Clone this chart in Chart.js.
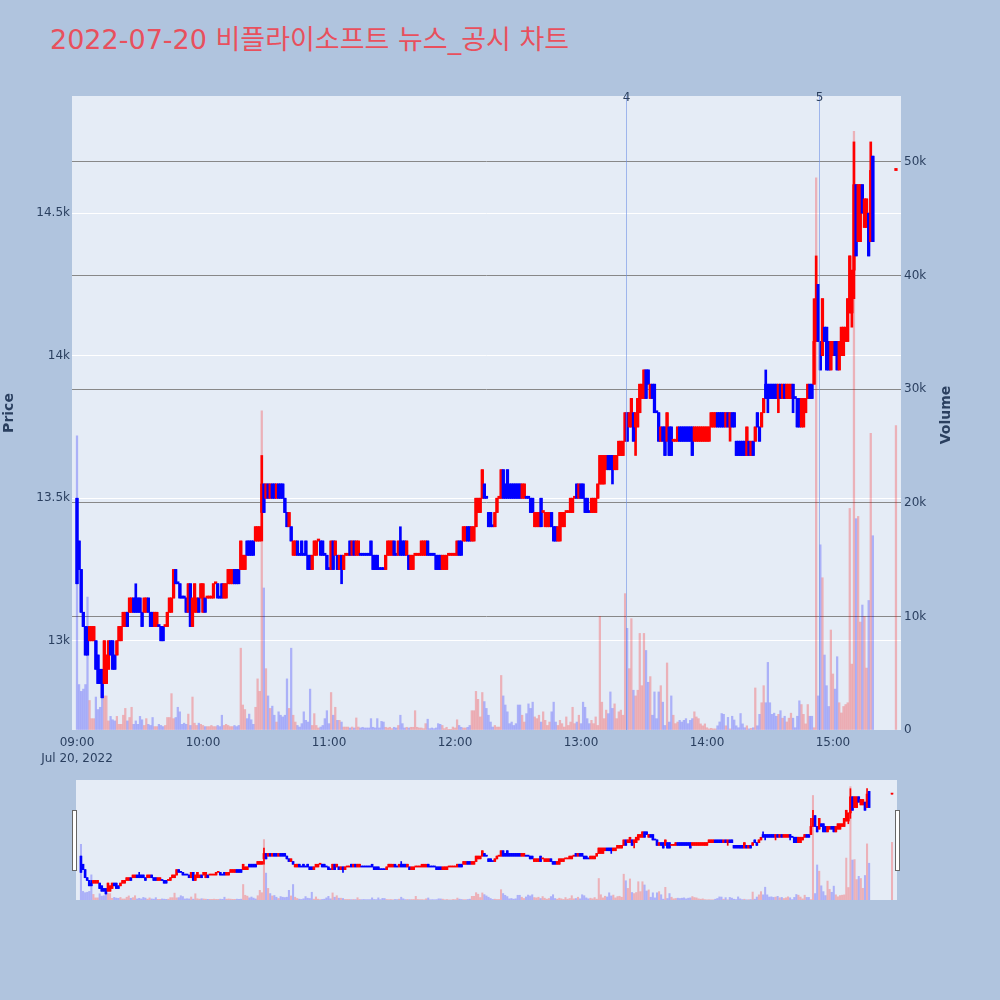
<!DOCTYPE html>
<html>
<head>
<meta charset="utf-8">
<script src="https://cdn.jsdelivr.net/npm/chart.js@4.4.0/dist/chart.umd.min.js"></script>
<style>
  body { margin: 0; width: 1000px; height: 1000px; overflow: hidden; position: relative; background: #b0c4de; }
  #title { position: absolute; left: 50px; top: 23px; font: 27px "DejaVu Sans", "Noto Sans CJK KR", sans-serif; color: #e8505d; line-height: 34px; white-space: nowrap; }
  #main { position: absolute; left: 0; top: 0; }
  #slider { position: absolute; left: 76px; top: 780px; background: #e5ecf6; }
  .grab { position: absolute; top: 810px; width: 3px; height: 59px; background: #fff; border: 1px solid #666; }
</style>
</head>
<body>
<div id="title">2022-07-20 비플라이소프트 뉴스_공시 차트</div>
<canvas id="main" width="1000" height="775"></canvas>
<canvas id="slider" width="821" height="120"></canvas>
<div class="grab" style="left:72px"></div>
<div class="grab" style="left:895px"></div>
<script>
// 1-minute candles, 2022-07-20
const dateLabel = "Jul 20, 2022";
const times = [
  "09:00","09:01","09:02","09:03","09:04","09:05","09:06","09:07","09:08","09:09",
  "09:10","09:11","09:12","09:13","09:14","09:15","09:16","09:17","09:18","09:19",
  "09:20","09:21","09:22","09:23","09:24","09:25","09:26","09:27","09:28","09:29",
  "09:30","09:31","09:32","09:33","09:34","09:35","09:36","09:37","09:38","09:39",
  "09:40","09:41","09:42","09:43","09:44","09:45","09:46","09:47","09:48","09:49",
  "09:50","09:51","09:52","09:53","09:54","09:55","09:56","09:57","09:58","09:59",
  "10:00","10:01","10:02","10:03","10:04","10:05","10:06","10:07","10:08","10:09",
  "10:10","10:11","10:12","10:13","10:14","10:15","10:16","10:17","10:18","10:19",
  "10:20","10:21","10:22","10:23","10:24","10:25","10:26","10:27","10:28","10:29",
  "10:30","10:31","10:32","10:33","10:34","10:35","10:36","10:37","10:38","10:39",
  "10:40","10:41","10:42","10:43","10:44","10:45","10:46","10:47","10:48","10:49",
  "10:50","10:51","10:52","10:53","10:54","10:55","10:56","10:57","10:58","10:59",
  "11:00","11:01","11:02","11:03","11:04","11:05","11:06","11:07","11:08","11:09",
  "11:10","11:11","11:12","11:13","11:14","11:15","11:16","11:17","11:18","11:19",
  "11:20","11:21","11:22","11:23","11:24","11:25","11:26","11:27","11:28","11:29",
  "11:30","11:31","11:32","11:33","11:34","11:35","11:36","11:37","11:38","11:39",
  "11:40","11:41","11:42","11:43","11:44","11:45","11:46","11:47","11:48","11:49",
  "11:50","11:51","11:52","11:53","11:54","11:55","11:56","11:57","11:58","11:59",
  "12:00","12:01","12:02","12:03","12:04","12:05","12:06","12:07","12:08","12:09",
  "12:10","12:11","12:12","12:13","12:14","12:15","12:16","12:17","12:18","12:19",
  "12:20","12:21","12:22","12:23","12:24","12:25","12:26","12:27","12:28","12:29",
  "12:30","12:31","12:32","12:33","12:34","12:35","12:36","12:37","12:38","12:39",
  "12:40","12:41","12:42","12:43","12:44","12:45","12:46","12:47","12:48","12:49",
  "12:50","12:51","12:52","12:53","12:54","12:55","12:56","12:57","12:58","12:59",
  "13:00","13:01","13:02","13:03","13:04","13:05","13:06","13:07","13:08","13:09",
  "13:10","13:11","13:12","13:13","13:14","13:15","13:16","13:17","13:18","13:19",
  "13:20","13:21","13:22","13:23","13:24","13:25","13:26","13:27","13:28","13:29",
  "13:30","13:31","13:32","13:33","13:34","13:35","13:36","13:37","13:38","13:39",
  "13:40","13:41","13:42","13:43","13:44","13:45","13:46","13:47","13:48","13:49",
  "13:50","13:51","13:52","13:53","13:54","13:55","13:56","13:57","13:58","13:59",
  "14:00","14:01","14:02","14:03","14:04","14:05","14:06","14:07","14:08","14:09",
  "14:10","14:11","14:12","14:13","14:14","14:15","14:16","14:17","14:18","14:19",
  "14:20","14:21","14:22","14:23","14:24","14:25","14:26","14:27","14:28","14:29",
  "14:30","14:31","14:32","14:33","14:34","14:35","14:36","14:37","14:38","14:39",
  "14:40","14:41","14:42","14:43","14:44","14:45","14:46","14:47","14:48","14:49",
  "14:50","14:51","14:52","14:53","14:54","14:55","14:56","14:57","14:58","14:59",
  "15:00","15:01","15:02","15:03","15:04","15:05","15:06","15:07","15:08","15:09",
  "15:10","15:11","15:12","15:13","15:14","15:15","15:16","15:17","15:18","15:19",
  "15:30"
];
const opens = [
  13500,13350,13250,13100,13050,13000,13000,13000,13000,13000,
  12950,12900,12900,12850,12850,12900,13000,13000,12950,12950,
  13000,13000,13050,13050,13100,13100,13100,13150,13150,13150,
  13150,13100,13100,13100,13150,13100,13100,13050,13050,13050,
  13050,13050,13050,13050,13100,13100,13150,13250,13200,13200,
  13150,13150,13150,13100,13200,13050,13100,13100,13150,13150,
  13100,13150,13150,13150,13150,13150,13200,13200,13150,13200,
  13150,13150,13200,13200,13200,13250,13250,13250,13250,13250,
  13250,13350,13350,13350,13350,13350,13350,13350,13450,13550,
  13500,13550,13500,13550,13550,13500,13550,13550,13550,13500,
  13450,13400,13400,13300,13300,13350,13300,13350,13300,13350,
  13300,13300,13250,13300,13300,13350,13350,13350,13300,13300,
  13250,13250,13350,13300,13300,13250,13300,13250,13300,13300,
  13350,13300,13350,13300,13300,13300,13300,13300,13300,13300,
  13350,13300,13300,13300,13250,13250,13250,13250,13300,13300,
  13300,13350,13300,13300,13350,13350,13350,13300,13300,13250,
  13250,13300,13300,13300,13300,13300,13300,13350,13300,13300,
  13300,13300,13300,13300,13250,13250,13250,13300,13300,13300,
  13300,13300,13350,13350,13350,13350,13400,13400,13350,13350,
  13400,13450,13450,13500,13550,13500,13450,13450,13400,13400,
  13450,13500,13500,13600,13550,13600,13550,13550,13550,13550,
  13550,13550,13500,13500,13500,13500,13500,13500,13400,13400,
  13400,13500,13450,13400,13400,13400,13450,13400,13400,13350,
  13350,13400,13400,13450,13450,13450,13450,13500,13550,13500,
  13550,13550,13500,13500,13450,13450,13450,13450,13500,13550,
  13550,13550,13600,13650,13650,13650,13600,13600,13650,13650,
  13650,13700,13800,13750,13750,13800,13750,13750,13800,13850,
  13850,13950,13950,13850,13900,13900,13800,13800,13700,13750,
  13750,13700,13750,13750,13700,13700,13700,13750,13750,13750,
  13750,13750,13750,13750,13700,13700,13700,13700,13700,13700,
  13700,13700,13750,13750,13750,13800,13800,13800,13800,13750,
  13800,13750,13800,13800,13700,13700,13700,13700,13700,13650,
  13700,13650,13700,13700,13800,13750,13750,13800,13900,13900,
  13900,13900,13900,13900,13850,13900,13850,13900,13850,13850,
  13850,13900,13850,13850,13850,13750,13750,13800,13850,13900,
  13900,13900,14050,14250,14050,14000,14100,14100,14050,13950,
  14000,14050,14050,13950,14000,14000,14050,14050,14150,14150,
  14300,14600,14400,14400,14600,14450,14450,14500,14400,14700,
  14650
];
const highs = [
  13500,13350,13250,13100,13050,13050,13050,13050,13050,13000,
  12950,12900,12900,13000,12950,13000,13000,13000,12950,13000,
  13050,13050,13100,13100,13100,13150,13150,13150,13200,13150,
  13150,13100,13150,13150,13150,13100,13100,13100,13100,13050,
  13050,13050,13050,13100,13150,13150,13250,13250,13200,13200,
  13150,13150,13150,13200,13200,13150,13200,13150,13150,13200,
  13200,13150,13150,13150,13150,13200,13200,13200,13150,13200,
  13200,13200,13250,13250,13250,13250,13250,13250,13350,13300,
  13300,13350,13350,13350,13350,13400,13400,13400,13650,13550,
  13550,13550,13550,13550,13550,13550,13550,13550,13550,13500,
  13450,13450,13400,13350,13350,13350,13300,13350,13300,13350,
  13300,13300,13300,13350,13350,13350,13350,13350,13300,13300,
  13250,13350,13350,13350,13300,13300,13300,13300,13300,13300,
  13350,13350,13350,13350,13350,13300,13300,13300,13300,13300,
  13350,13300,13300,13300,13250,13250,13250,13300,13350,13350,
  13350,13350,13300,13350,13400,13350,13350,13350,13300,13300,
  13300,13300,13300,13300,13350,13350,13350,13350,13300,13300,
  13300,13300,13300,13300,13300,13300,13300,13300,13300,13300,
  13300,13350,13350,13350,13400,13400,13400,13400,13400,13400,
  13500,13500,13500,13600,13550,13500,13450,13450,13400,13450,
  13500,13500,13600,13600,13550,13600,13550,13550,13550,13550,
  13550,13550,13550,13550,13500,13500,13500,13500,13450,13450,
  13450,13500,13450,13450,13450,13450,13450,13400,13400,13400,
  13450,13450,13450,13450,13450,13500,13500,13500,13550,13550,
  13550,13550,13500,13500,13450,13500,13500,13500,13550,13650,
  13650,13650,13650,13650,13650,13650,13650,13650,13700,13700,
  13700,13800,13800,13800,13850,13800,13800,13850,13900,13900,
  13950,13950,13950,13900,13900,13900,13800,13800,13750,13750,
  13750,13800,13750,13750,13700,13700,13750,13750,13750,13750,
  13750,13750,13750,13750,13750,13750,13750,13750,13750,13750,
  13750,13750,13800,13800,13800,13800,13800,13800,13800,13800,
  13800,13800,13800,13800,13700,13700,13700,13700,13700,13750,
  13700,13700,13700,13750,13800,13750,13800,13850,13950,13900,
  13900,13900,13900,13900,13900,13900,13900,13900,13900,13900,
  13900,13900,13850,13850,13850,13850,13850,13850,13900,13900,
  13900,14200,14350,14250,14050,14200,14100,14100,14050,14050,
  14050,14050,14050,14050,14100,14100,14100,14200,14350,14300,
  14750,14600,14600,14600,14600,14550,14550,14500,14750,14700,
  14650
];
const lows = [
  13200,13250,13100,13050,12950,12950,13000,13000,13000,12900,
  12850,12850,12800,12850,12850,12900,12950,12900,12900,12950,
  13000,13000,13050,13050,13050,13100,13100,13100,13100,13100,
  13100,13050,13100,13100,13100,13050,13050,13050,13050,13050,
  13000,13000,13050,13050,13100,13100,13150,13200,13200,13150,
  13150,13150,13100,13100,13050,13050,13100,13100,13100,13150,
  13100,13100,13150,13150,13150,13150,13200,13150,13150,13150,
  13150,13150,13200,13200,13200,13200,13200,13200,13250,13250,
  13250,13300,13300,13300,13300,13350,13350,13350,13350,13450,
  13500,13500,13500,13500,13500,13500,13500,13500,13500,13450,
  13400,13400,13350,13300,13300,13300,13300,13300,13300,13300,
  13250,13250,13250,13300,13300,13350,13300,13300,13300,13250,
  13250,13250,13250,13300,13250,13250,13200,13250,13300,13300,
  13300,13300,13300,13300,13300,13300,13300,13300,13300,13300,
  13300,13250,13250,13250,13250,13250,13250,13250,13300,13300,
  13300,13300,13300,13300,13300,13300,13300,13300,13250,13250,
  13250,13300,13300,13300,13300,13300,13300,13300,13300,13300,
  13300,13250,13250,13250,13250,13250,13250,13300,13300,13300,
  13300,13300,13300,13300,13350,13350,13350,13350,13350,13350,
  13400,13450,13450,13500,13500,13500,13400,13400,13400,13400,
  13450,13500,13500,13500,13500,13500,13500,13500,13500,13500,
  13500,13500,13500,13500,13500,13500,13450,13450,13400,13400,
  13400,13400,13450,13400,13400,13400,13400,13350,13350,13350,
  13350,13400,13400,13450,13450,13450,13450,13500,13500,13500,
  13500,13500,13450,13450,13450,13450,13450,13450,13500,13550,
  13550,13550,13600,13600,13600,13550,13600,13600,13650,13650,
  13650,13700,13700,13750,13750,13700,13650,13750,13800,13850,
  13850,13850,13900,13850,13850,13800,13800,13700,13700,13700,
  13650,13700,13650,13650,13700,13700,13700,13700,13700,13700,
  13700,13700,13700,13650,13700,13700,13700,13700,13700,13700,
  13700,13700,13750,13750,13750,13750,13750,13750,13750,13750,
  13750,13700,13750,13750,13650,13650,13650,13650,13650,13650,
  13650,13650,13650,13700,13750,13700,13750,13800,13850,13800,
  13850,13850,13850,13850,13800,13850,13850,13850,13850,13850,
  13850,13800,13850,13750,13750,13750,13750,13800,13850,13850,
  13850,13900,14050,14050,13950,14000,14050,13950,13950,13950,
  14000,14000,13950,13950,14000,14000,14050,14050,14150,14100,
  14200,14350,14400,14400,14500,14450,14450,14350,14400,14400,
  14650
];
const closes = [
  13200,13250,13100,13050,12950,12950,13050,13050,13050,12900,
  12850,12850,12800,13000,12950,13000,12950,12900,12900,13000,
  13050,13050,13100,13100,13050,13150,13150,13100,13100,13100,
  13100,13050,13150,13150,13100,13050,13050,13100,13100,13050,
  13000,13000,13050,13100,13150,13150,13250,13200,13200,13150,
  13150,13150,13100,13200,13050,13150,13200,13150,13100,13200,
  13200,13100,13150,13150,13150,13200,13200,13150,13150,13150,
  13200,13200,13250,13250,13250,13200,13200,13200,13350,13300,
  13300,13300,13300,13300,13300,13400,13400,13400,13550,13450,
  13550,13500,13550,13500,13500,13550,13500,13500,13500,13450,
  13400,13450,13350,13350,13350,13300,13300,13300,13300,13300,
  13250,13250,13300,13350,13350,13350,13300,13300,13300,13250,
  13250,13350,13250,13350,13250,13300,13250,13300,13300,13300,
  13300,13350,13300,13350,13350,13300,13300,13300,13300,13300,
  13300,13250,13250,13250,13250,13250,13250,13300,13350,13350,
  13350,13300,13300,13350,13300,13300,13300,13350,13250,13300,
  13300,13300,13300,13300,13350,13350,13350,13300,13300,13300,
  13300,13250,13250,13250,13300,13300,13300,13300,13300,13300,
  13300,13350,13300,13300,13400,13400,13350,13350,13400,13400,
  13500,13500,13500,13600,13500,13500,13400,13400,13400,13450,
  13500,13500,13600,13500,13500,13500,13500,13500,13500,13500,
  13500,13500,13550,13550,13500,13500,13450,13450,13450,13450,
  13450,13400,13450,13450,13450,13450,13400,13350,13350,13400,
  13450,13450,13450,13450,13450,13500,13500,13500,13500,13550,
  13500,13500,13450,13450,13450,13500,13500,13500,13550,13650,
  13650,13650,13650,13600,13600,13600,13650,13650,13700,13700,
  13700,13800,13700,13800,13850,13700,13800,13850,13900,13900,
  13950,13850,13900,13900,13850,13800,13800,13700,13750,13700,
  13650,13800,13650,13650,13700,13700,13750,13700,13700,13700,
  13700,13700,13700,13650,13750,13750,13750,13750,13750,13750,
  13750,13750,13800,13800,13800,13750,13750,13750,13750,13800,
  13750,13800,13750,13750,13650,13650,13650,13650,13650,13750,
  13650,13700,13650,13750,13750,13700,13800,13850,13850,13850,
  13850,13850,13850,13850,13900,13850,13900,13850,13900,13900,
  13900,13850,13850,13750,13750,13850,13850,13850,13900,13850,
  13850,14050,14200,14050,13950,14200,14050,13950,13950,14050,
  14050,14000,13950,14050,14100,14100,14100,14200,14350,14300,
  14600,14350,14600,14600,14500,14550,14550,14350,14650,14400,
  14650
];
const volumes = [
  25900,4000,3400,3600,4000,11700,2600,1000,1000,2900,
  1800,2000,3800,3000,3000,800,1200,900,800,1200,
  500,500,1300,1900,800,1100,2000,500,800,500,
  1200,900,400,1000,500,400,1100,300,300,500,
  400,300,400,1100,1100,3200,1000,1100,2000,1600,
  500,600,500,1400,400,2900,600,400,600,500,
  400,300,300,300,400,300,300,400,300,1300,
  400,500,400,300,300,400,300,400,7200,2200,
  1800,1000,1400,900,500,2000,4500,3400,28100,12500,
  5400,3000,1900,2100,1300,700,1600,1300,1150,1300,
  4500,1900,7200,1300,700,400,260,560,1600,850,
  700,3600,400,1440,400,180,260,400,1000,1700,
  560,3300,1300,2000,850,850,700,260,260,260,
  180,260,180,1060,260,180,240,180,180,180,
  1000,240,180,1000,180,760,700,240,180,240,
  120,240,180,400,1300,560,180,240,180,240,
  240,1700,240,180,180,120,560,950,120,180,
  120,180,560,500,400,120,240,60,60,260,
  180,900,400,240,180,180,240,400,1700,1700,
  3400,2700,1150,3300,2500,1900,1300,700,260,400,
  260,260,4800,3000,2200,1600,560,700,400,560,
  2200,2200,1300,700,1440,2300,1900,2450,1150,1000,
  1300,700,1600,850,400,700,1600,2450,700,400,
  850,560,260,1150,400,700,2000,560,700,1300,
  560,2450,2000,1000,560,850,560,1150,400,10000,
  2450,1000,1750,1440,3350,1900,2300,1000,1600,1750,
  1300,12000,8950,5400,9800,3500,3000,3500,8500,3900,
  8500,7000,4200,4700,1300,3350,1000,3350,3900,2450,
  400,5900,700,3000,1300,560,700,850,700,850,
  1000,560,850,1000,1600,1150,1000,540,370,540,
  200,100,150,100,100,370,710,1450,1380,370,
  1110,100,1210,880,370,200,1450,540,200,370,
  100,150,200,3700,370,1380,2400,3900,2400,5950,
  2400,1380,1480,1210,1380,1700,1040,1210,710,1040,
  1480,1040,200,1210,2570,2240,1380,540,2240,1210,
  1210,200,48600,3000,16300,13400,6600,3900,2070,8800,
  4930,3600,6450,2400,1500,2070,2240,2400,19500,5800,
  52700,18600,18800,9500,11000,10000,5450,11400,26100,17100,
  26800
];
// news markers
const newsTimes = ["13:21:25", "14:53:20"];
const newsLabels = ["4", "5"];
// axis ticks
const timeTicks = ["09:00", "10:00", "11:00", "12:00", "13:00", "14:00", "15:00"];
const priceTicks = [13000, 13500, 14000, 14500];
const priceTickLabels = ["13k", "13.5k", "14k", "14.5k"];
const volumeTicks = [0, 10000, 20000, 30000, 40000, 50000];
const volumeTickLabels = ["0", "10k", "20k", "30k", "40k", "50k"];

const RED = "#ff0000", BLUE = "#0000ff";
const RED_V = "rgba(255,0,0,0.25)", BLUE_V = "rgba(0,0,255,0.25)";
const TXT = "#2a3f5f";
const FONT = '"DejaVu Sans", "Noto Sans CJK KR", sans-serif';

function toMin(t) {
    const [h, m, s] = t.split(":").map(Number);
    return (h - 9) * 60 + m + (s || 0) / 60;
}
const xs = times.map(toMin);

// plotly-ish direction: flat candles follow the previous close
const up = [];
closes.forEach((c, i) => {
    const o = opens[i];
    if (c > o) up.push(true);
    else if (c < o) up.push(false);
    else if (i > 0 && c > closes[i - 1]) up.push(true);
    else if (i > 0 && c < closes[i - 1]) up.push(false);
    else up.push(i > 0 ? up[i - 1] : true);
});

function makeDatasets(bodyW, wickW, volW, minLen) {
    return [
        {
            label: "Volume",
            yAxisID: "yv",
            data: xs.map((x, i) => ({ x: x, y: volumes[i] })),
            backgroundColor: up.map((u) => (u ? RED_V : BLUE_V)),
            barThickness: volW,
            grouped: false,
            order: 3,
        },
        {
            label: "wick",
            yAxisID: "y",
            data: xs.map((x, i) => ({ x: x, y: [lows[i], highs[i]] })),
            backgroundColor: up.map((u) => (u ? RED : BLUE)),
            barThickness: wickW,
            grouped: false,
            order: 2,
        },
        {
            label: "body",
            yAxisID: "y",
            data: xs.map((x, i) => ({ x: x, y: [opens[i], closes[i]] })),
            backgroundColor: up.map((u) => (u ? RED : BLUE)),
            barThickness: bodyW,
            minBarLength: minLen,
            grouped: false,
            order: 1,
        },
    ];
}

const X_MIN = -2.38, X_MAX = 392.4;
const P_MIN = 12687, P_MAX = 14911;
const V_MAX = 55800;

const plotBg = {
    id: "plotBg",
    beforeDraw(chart) {
        const { ctx, chartArea: a } = chart;
        ctx.save();
        ctx.fillStyle = "#e5ecf6";
        ctx.fillRect(a.left, a.top, a.right - a.left, a.bottom - a.top);
        ctx.restore();
    },
};

const newsLines = {
    id: "newsLines",
    afterDatasetsDraw(chart) {
        const { ctx, chartArea: a } = chart;
        const x = chart.scales.x;
        ctx.save();
        newsTimes.forEach((t, i) => {
            const px = Math.round(x.getPixelForValue(toMin(t))) + 0.5;
            ctx.strokeStyle = "rgba(110,145,230,0.6)";
            ctx.lineWidth = 1;
            ctx.beginPath();
            ctx.moveTo(px, a.top);
            ctx.lineTo(px, a.bottom);
            ctx.stroke();
            ctx.fillStyle = TXT;
            ctx.font = "12px " + FONT;
            ctx.textAlign = "center";
            ctx.textBaseline = "alphabetic";
            ctx.fillText(newsLabels[i], px, a.top + 5);
        });
        ctx.restore();
    },
};

const axisTitles = {
    id: "axisTitles",
    afterDraw(chart) {
        const { ctx } = chart;
        ctx.save();
        ctx.fillStyle = TXT;
        ctx.font = "bold 14px " + FONT;
        ctx.textAlign = "center";
        ctx.textBaseline = "middle";
        [["Price", 9, 413], ["Volume", 946, 415]].forEach(([t, x, y]) => {
            ctx.save();
            ctx.translate(x, y);
            ctx.rotate(-Math.PI / 2);
            ctx.fillText(t, 0, 0);
            ctx.restore();
        });
        ctx.restore();
    },
};

const tickFont = { family: FONT, size: 12, lineHeight: 1.35 };

new Chart(document.getElementById("main"), {
    type: "bar",
    data: { datasets: makeDatasets(2.6, 2, 1.6, 2) },
    options: {
        responsive: false,
        animation: false,
        devicePixelRatio: 1,
        layout: { padding: { top: 96, left: 0, right: 0, bottom: 0 } },
        plugins: { legend: { display: false }, tooltip: { enabled: false } },
        scales: {
            x: {
                type: "linear",
                min: X_MIN,
                max: X_MAX,
                offset: false,
                grid: { display: false, drawTicks: false },
                border: { display: false },
                afterBuildTicks: (s) => { s.ticks = timeTicks.map((t) => ({ value: toMin(t) })); },
                afterFit: (s) => { s.height = 45; },
                ticks: {
                    padding: 5,
                    maxRotation: 0,
                    autoSkip: false,
                    color: TXT,
                    font: tickFont,
                    callback: (v, i) => (i === 0 ? [timeTicks[0], dateLabel] : timeTicks[i]),
                },
            },
            y: {
                position: "left",
                min: P_MIN,
                max: P_MAX,
                grid: { color: "#ffffff", lineWidth: 1, drawTicks: false },
                border: { display: false },
                afterBuildTicks: (s) => { s.ticks = priceTicks.map((v) => ({ value: v })); },
                afterFit: (s) => { s.width = 72; },
                ticks: {
                    padding: 2,
                    color: TXT,
                    font: tickFont,
                    callback: (v, i) => priceTickLabels[i],
                },
            },
            yv: {
                position: "right",
                min: 0,
                max: V_MAX,
                grid: {
                    color: (c) => (c.tick && c.tick.value === 0 ? "rgba(0,0,0,0)" : "#888888"),
                    lineWidth: 1,
                    drawTicks: false,
                },
                border: { display: false },
                afterBuildTicks: (s) => { s.ticks = volumeTicks.map((v) => ({ value: v })); },
                afterFit: (s) => { s.width = 99; },
                ticks: {
                    padding: 3,
                    color: TXT,
                    font: tickFont,
                    callback: (v, i) => volumeTickLabels[i],
                },
            },
        },
    },
    plugins: [plotBg, newsLines, axisTitles],
});

// range slider overview
new Chart(document.getElementById("slider"), {
    type: "bar",
    data: { datasets: makeDatasets(2, 1, 1.4, 1) },
    options: {
        responsive: false,
        animation: false,
        devicePixelRatio: 1,
        layout: { padding: 0 },
        plugins: { legend: { display: false }, tooltip: { enabled: false } },
        scales: {
            x: { type: "linear", min: X_MIN, max: X_MAX, offset: false, display: false },
            y: { min: P_MIN, max: P_MAX, display: false },
            yv: { position: "right", min: 0, max: V_MAX, display: false },
        },
    },
});
</script>
</body>
</html>
